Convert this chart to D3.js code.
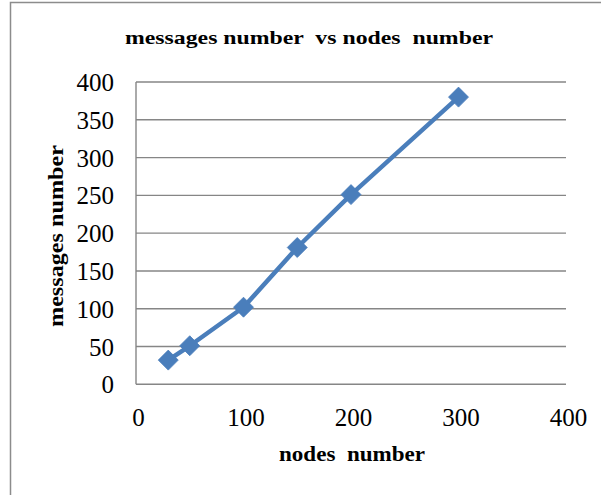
<!DOCTYPE html>
<html><head><meta charset="utf-8">
<script src="https://cdn.jsdelivr.net/npm/d3@7"></script>
<style>
html,body{margin:0;padding:0;background:#fff;}
svg{display:block;}
text{font-family:"Liberation Serif","Times New Roman",serif;white-space:pre;}
</style></head>
<body>
<script>
const nodes = [30, 50, 100, 150, 200, 300];
const messages = [32, 51, 102, 181, 251, 380];
const xTicks = [0, 100, 200, 300, 400];
const yTicks = [0, 50, 100, 150, 200, 250, 300, 350, 400];
const chartTitle = "messages number  vs nodes  number";
const xTitle = "nodes  number";
const yTitle = "messages number";

const W = 601, H = 495;
const svg = d3.select("body").append("svg").attr("width", W).attr("height", H);

// outer chart border (cropped at right/bottom)
svg.append("rect").attr("x", 10.5).attr("y", 2.5).attr("width", 640).attr("height", 600)
  .attr("fill", "#fff").attr("stroke", "#8c8c8c").attr("stroke-width", 1.5);

const x = d3.scaleLinear().domain([0, 400]).range([136, 566]);
const y = d3.scaleLinear().domain([0, 400]).range([384.3, 82]);

// gridlines
svg.append("g").selectAll("line").data(yTicks).join("line")
  .attr("x1", x(0)).attr("x2", x(400))
  .attr("y1", d => y(d)).attr("y2", d => y(d))
  .attr("stroke", "#868686").attr("stroke-width", 1.4);

// y axis line
svg.append("line").attr("x1", x(0)).attr("x2", x(0)).attr("y1", y(0)).attr("y2", y(400))
  .attr("stroke", "#868686").attr("stroke-width", 1.4);

// axes labels using d3 axes (no tick lines)
const yAxis = svg.append("g").attr("transform", `translate(${x(0)},0)`)
  .call(d3.axisLeft(y).tickValues(yTicks).tickSize(0).tickPadding(22).tickFormat(d3.format("d")));
yAxis.select(".domain").remove();
yAxis.selectAll("text").attr("font-size", 25).attr("fill", "#000")
  .style("font-family", '"Liberation Serif",serif').attr("dy", "0.34em");

const xAxis = svg.append("g").attr("transform", `translate(0,${y(0)})`)
  .call(d3.axisBottom(x).tickValues(xTicks).tickSize(0).tickPadding(24).tickFormat(d3.format("d")));
xAxis.select(".domain").remove();
xAxis.selectAll("text").attr("font-size", 25).attr("fill", "#000")
  .style("font-family", '"Liberation Serif",serif').attr("dx", 2).attr("dy", "0.71em");

// line
const pts = nodes.map((n, i) => [n, messages[i]]);
svg.append("path").datum(pts)
  .attr("d", d3.line().x(d => x(d[0])).y(d => y(d[1])))
  .attr("fill", "none").attr("stroke", "#4a7ebb").attr("stroke-width", 4.5)
  .attr("stroke-linejoin", "round");

// diamond markers
svg.append("g").selectAll("path").data(pts).join("path")
  .attr("transform", d => `translate(${x(d[0])},${y(d[1])})`)
  .attr("d", "M0,-10L10,0L0,10L-10,0Z")
  .attr("fill", "#4a7ebb").attr("stroke", "#4a7ebb").attr("stroke-width", 0.8);

// titles
svg.append("text").attr("x", 309).attr("y", 43.5).attr("text-anchor", "middle")
  .attr("font-size", 19).attr("font-weight", "bold")
  .attr("textLength", 368).attr("lengthAdjust", "spacingAndGlyphs").text(chartTitle);

svg.append("text").attr("x", 352).attr("y", 460.7).attr("text-anchor", "middle")
  .attr("font-size", 20).attr("font-weight", "bold")
  .attr("textLength", 146).attr("lengthAdjust", "spacingAndGlyphs").text(xTitle);

svg.append("text").attr("transform", "translate(63,236) rotate(-90)").attr("text-anchor", "middle")
  .attr("font-size", 20).attr("font-weight", "bold")
  .attr("textLength", 182).attr("lengthAdjust", "spacingAndGlyphs").text(yTitle);
</script>
</body></html>
